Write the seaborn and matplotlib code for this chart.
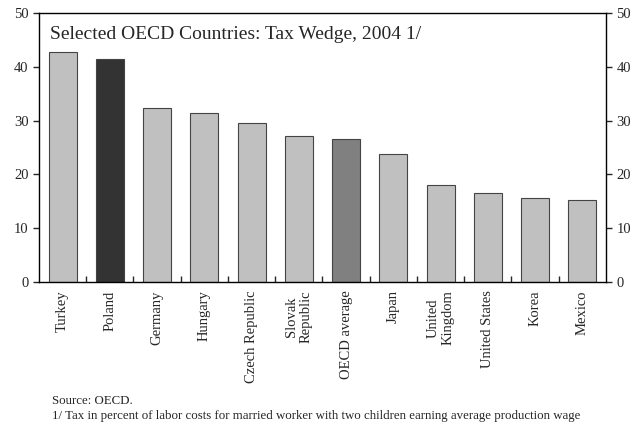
import seaborn as sns
import matplotlib.pyplot as plt
import pandas as pd
import numpy as np
from matplotlib.ticker import FixedLocator

countries = ['Turkey', 'Poland', 'Germany', 'Hungary', 'Czech Republic',
             'Slovak\nRepublic', 'OECD average', 'Japan', 'United\nKingdom',
             'United States', 'Korea', 'Mexico']
tax_wedge = [42.8, 41.4, 32.3, 31.4, 29.6, 27.2, 26.5, 23.8, 18.0, 16.5, 15.7, 15.3]
highlight = {'Poland': '#333333', 'OECD average': '#808080'}

df = pd.DataFrame({'country': countries, 'wedge': tax_wedge})
palette = {c: highlight.get(c, '#C0C0C0') for c in countries}

sns.set_style('white')
plt.rcParams['font.family'] = ['Liberation Serif', 'DejaVu Serif']

fig = plt.figure(figsize=(6.36, 4.26), dpi=100)
ax = fig.add_axes([0.0613, 0.338, 0.8915, 0.6315])

sns.barplot(data=df, x='country', y='wedge', hue='country', palette=palette,
            legend=False, width=0.59, edgecolor='#444444', linewidth=0.8,
            saturation=1, ax=ax)

ax.set_xlim(-0.5, len(countries) - 0.5)
ax.set_ylim(0, 50)
ax.set_yticks(range(0, 51, 10))
ax.set_xlabel('')
ax.set_ylabel('')

# category boundary ticks on the x axis, pointing up
ax.xaxis.set_minor_locator(FixedLocator(np.arange(0.5, len(countries) - 0.5, 1)))
ax.tick_params(axis='x', which='major', length=0, labelsize=10.5, rotation=90, pad=6)
ax.tick_params(axis='x', which='minor', direction='in', length=4, width=1, bottom=True)
ax.tick_params(axis='y', direction='out', length=4, width=1, labelsize=10.5,
               left=True, right=True, labelright=True)

for s in ax.spines.values():
    s.set_color('black')
    s.set_linewidth(1)

ax.text(0.02, 0.95, 'Selected OECD Countries: Tax Wedge, 2004 1/',
        transform=ax.transAxes, fontsize=14, va='top', ha='left')

fig.text(0.082, 0.058, 'Source: OECD.', fontsize=9.3, va='center')
fig.text(0.082, 0.023, '1/ Tax in percent of labor costs for married worker with two '
         'children earning average production wage', fontsize=9.3, va='center')

fig.savefig('out.png', dpi=100)
